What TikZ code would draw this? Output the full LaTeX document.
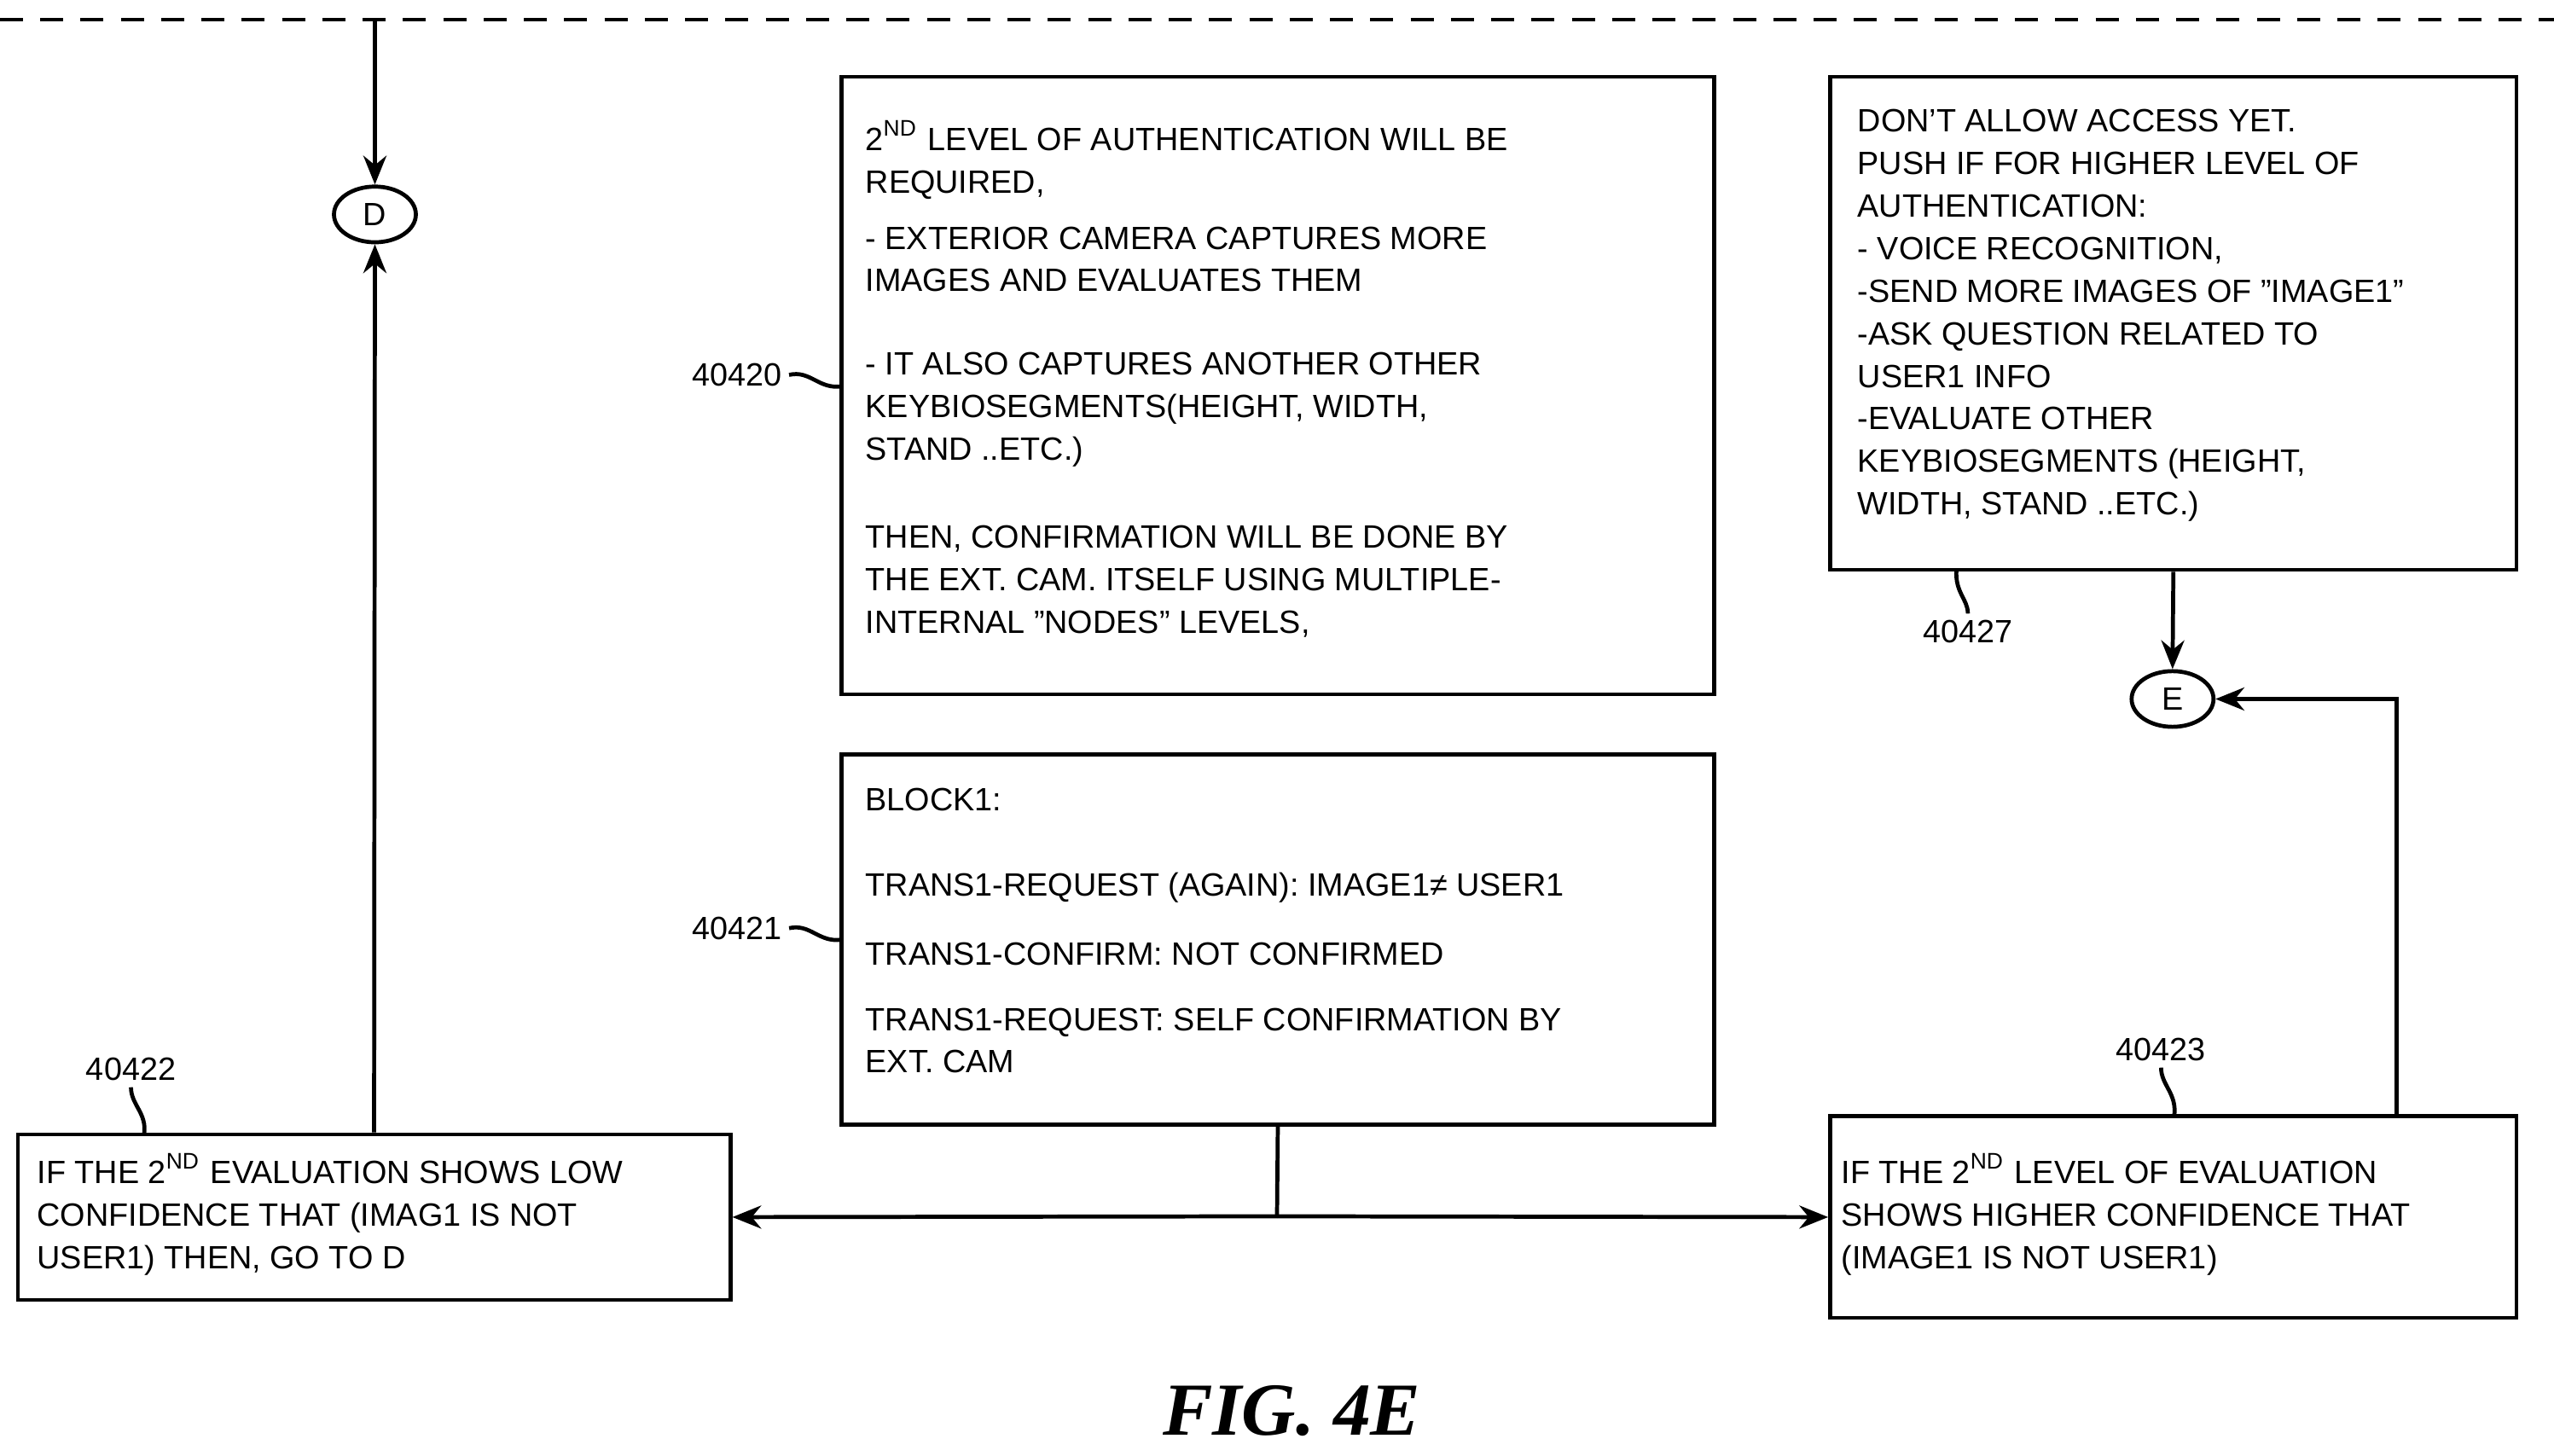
\documentclass[tikz,border=0pt]{standalone}
\usetikzlibrary{shapes.geometric,arrows.meta}
\usepackage{fontspec}
\setmainfont{Liberation Sans}
\newfontfamily\figfont{Liberation Serif}
\begin{document}
\begin{tikzpicture}[x=0.01cm,y=-0.01cm,
  box/.style={draw,line width=0.7pt,inner sep=0pt},
  txt/.style={anchor=north west,align=left,inner sep=0pt,font=\fontsize{5.6}{7.4}\selectfont},
  lbl/.style={inner sep=1pt,font=\fontsize{5.6}{7.4}\selectfont},
  ell/.style={draw,ellipse,line width=0.7pt,minimum width=0.5cm,minimum height=0.34cm,inner sep=0pt,font=\fontsize{5.6}{7.4}\selectfont},
  ln/.style={line width=0.7pt},
  arr/.style={line width=0.7pt,-{Stealth[length=5pt,width=4pt]}}]
\useasboundingbox (0,0) rectangle (1560,889);
\draw[ln,dash pattern=on 4pt off 3pt] (0,12) -- (1560,12);
\coordinate (top) at (229,12);
% boxes
\node[box,minimum width=5.33cm,minimum height=3.77cm] (b20) at (780.5,235.5) {};
\node[box,minimum width=4.19cm,minimum height=3.01cm] (b27) at (1327.5,197.5) {};
\node[box,minimum width=5.33cm,minimum height=2.26cm] (b21) at (780.5,574) {};
\node[box,minimum width=4.35cm,minimum height=1.01cm] (b22) at (228.5,743.5) {};
\node[box,minimum width=4.19cm,minimum height=1.23cm] (b23) at (1327.5,743.5) {};
\node[ell] (D) at (229,131) {D};
\node[ell] (E) at (1327,427) {E};
% texts
\node[txt] at (528,73) {2\textsuperscript{ND} LEVEL OF AUTHENTICATION WILL BE\\ REQUIRED,\\[2.3pt]
- EXTERIOR CAMERA CAPTURES MORE\\ IMAGES AND EVALUATES THEM\\[7.1pt]
- IT ALSO CAPTURES ANOTHER OTHER\\ KEYBIOSEGMENTS(HEIGHT, WIDTH,\\ STAND ..ETC.)\\[7.9pt]
THEN, CONFIRMATION WILL BE DONE BY\\ THE EXT. CAM. ITSELF USING MULTIPLE-\\ INTERNAL "NODES" LEVELS,};
\node[txt] at (1134,66) {DON'T ALLOW ACCESS YET.\\ PUSH IF FOR HIGHER LEVEL OF\\ AUTHENTICATION:\\
- VOICE RECOGNITION,\\ -SEND MORE IMAGES OF "IMAGE1"\\ -ASK QUESTION RELATED TO\\ USER1 INFO\\
-EVALUATE OTHER\\ KEYBIOSEGMENTS (HEIGHT,\\ WIDTH, STAND ..ETC.)};
\node[txt] at (528,481) {BLOCK1:\\[7.4pt]
TRANS1-REQUEST (AGAIN): IMAGE1≠ USER1\\[4.5pt]
TRANS1-CONFIRM: NOT CONFIRMED\\[4.0pt]
TRANS1-REQUEST: SELF CONFIRMATION BY\\ EXT. CAM};
\node[txt] at (22,704) {IF THE 2\textsuperscript{ND} EVALUATION SHOWS LOW\\ CONFIDENCE THAT (IMAG1 IS NOT\\ USER1) THEN, GO TO D};
\node[txt] at (1124,704) {IF THE 2\textsuperscript{ND} LEVEL OF EVALUATION\\ SHOWS HIGHER CONFIDENCE THAT\\ (IMAGE1 IS NOT USER1)};
% connectors
\draw[arr] (top) -- (D.north);
\draw[arr] (b22.north) -- (D.south);
\draw[arr] (b27.south) -- (E.north);
\draw[ln] (b21.south) -- (780,743) coordinate (j);
\draw[arr] (j) -- (b22.east);
\draw[arr] (j) -- (b23.west);
\coordinate (c1) at (1464,682);
\coordinate (c2) at (1464,427);
\draw[arr] (c1) -- (c2) -- (E.east);
% reference labels
\coordinate (e20) at (514,236);
\coordinate (e21) at (514,574);
\node[lbl,anchor=east] (l20) at (482,229) {40420};
\draw[ln] (l20.east) .. controls (495,226) and (500,238) .. (e20);
\node[lbl,anchor=east] (l21) at (482,567) {40421};
\draw[ln] (l21.east) .. controls (495,564) and (500,576) .. (e21);
\coordinate (e22) at (88,693);
\coordinate (e23) at (1328,682);
\coordinate (e27) at (1195,348);
\node[lbl] (l22) at (80,653) {40422};
\draw[ln] (l22.south) .. controls (80,675) and (90,680) .. (e22);
\node[lbl] (l23) at (1320,641) {40423};
\draw[ln] (l23.south) .. controls (1320,663) and (1330,668) .. (e23);
\node[lbl] (l27) at (1202,386) {40427};
\draw[ln] (l27.north) .. controls (1202,366) and (1194,362) .. (e27);
\node[font=\figfont\bfseries\itshape\fontsize{13}{15}\selectfont] (fig) at (789,862) {FIG. 4E};
\end{tikzpicture}
\end{document}
